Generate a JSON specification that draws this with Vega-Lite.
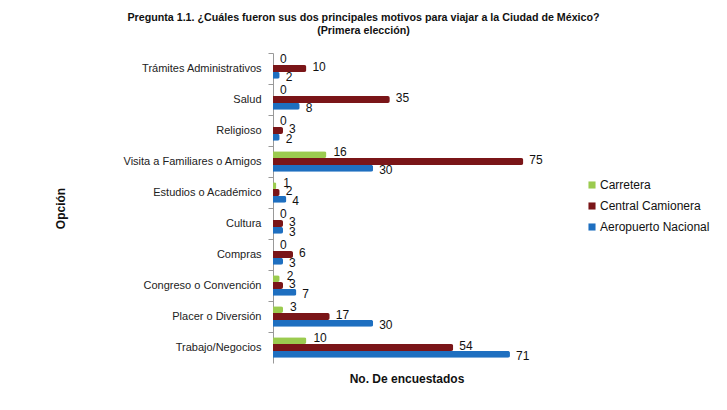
{
  "$schema": "https://vega.github.io/schema/vega-lite/v6.json",
  "autosize": {"type": "none"},
  "width": 267,
  "height": 310,
  "padding": {"left": 273, "top": 53, "right": 187, "bottom": 47},
  "background": "white",
  "config": {
    "font": "Liberation Sans",
    "view": {"stroke": null}
  },
  "title": {
    "text": ["Pregunta 1.1. ¿Cuáles fueron sus dos principales motivos para viajar a la Ciudad de México?", "(Primera elección)"],
    "fontSize": 10.7,
    "fontWeight": "bold",
    "color": "#111",
    "anchor": "middle",
    "dx": -43,
    "offset": 16,
    "lineHeight": 13
  },
  "data": {
    "values": [
      {"opcion": "Trámites Administrativos", "serie": "Carretera", "valor": 0},
      {"opcion": "Trámites Administrativos", "serie": "Central Camionera", "valor": 10},
      {"opcion": "Trámites Administrativos", "serie": "Aeropuerto Nacional", "valor": 2},
      {"opcion": "Salud", "serie": "Carretera", "valor": 0},
      {"opcion": "Salud", "serie": "Central Camionera", "valor": 35},
      {"opcion": "Salud", "serie": "Aeropuerto Nacional", "valor": 8},
      {"opcion": "Religioso", "serie": "Carretera", "valor": 0},
      {"opcion": "Religioso", "serie": "Central Camionera", "valor": 3},
      {"opcion": "Religioso", "serie": "Aeropuerto Nacional", "valor": 2},
      {"opcion": "Visita a Familiares o Amigos", "serie": "Carretera", "valor": 16},
      {"opcion": "Visita a Familiares o Amigos", "serie": "Central Camionera", "valor": 75},
      {"opcion": "Visita a Familiares o Amigos", "serie": "Aeropuerto Nacional", "valor": 30},
      {"opcion": "Estudios o Académico", "serie": "Carretera", "valor": 1},
      {"opcion": "Estudios o Académico", "serie": "Central Camionera", "valor": 2},
      {"opcion": "Estudios o Académico", "serie": "Aeropuerto Nacional", "valor": 4},
      {"opcion": "Cultura", "serie": "Carretera", "valor": 0},
      {"opcion": "Cultura", "serie": "Central Camionera", "valor": 3},
      {"opcion": "Cultura", "serie": "Aeropuerto Nacional", "valor": 3},
      {"opcion": "Compras", "serie": "Carretera", "valor": 0},
      {"opcion": "Compras", "serie": "Central Camionera", "valor": 6},
      {"opcion": "Compras", "serie": "Aeropuerto Nacional", "valor": 3},
      {"opcion": "Congreso o Convención", "serie": "Carretera", "valor": 2},
      {"opcion": "Congreso o Convención", "serie": "Central Camionera", "valor": 3},
      {"opcion": "Congreso o Convención", "serie": "Aeropuerto Nacional", "valor": 7},
      {"opcion": "Placer o Diversión", "serie": "Carretera", "valor": 3},
      {"opcion": "Placer o Diversión", "serie": "Central Camionera", "valor": 17},
      {"opcion": "Placer o Diversión", "serie": "Aeropuerto Nacional", "valor": 30},
      {"opcion": "Trabajo/Negocios", "serie": "Carretera", "valor": 10},
      {"opcion": "Trabajo/Negocios", "serie": "Central Camionera", "valor": 54},
      {"opcion": "Trabajo/Negocios", "serie": "Aeropuerto Nacional", "valor": 71}
    ]
  },
  "encoding": {
    "y": {
      "field": "opcion",
      "type": "nominal",
      "sort": null,
      "scale": {"paddingInner": 0, "paddingOuter": 0},
      "axis": {
        "title": "Opción",
        "titleFontSize": 12,
        "titleFontWeight": "bold",
        "titleColor": "#111",
        "titleX": -213,
        "titleY": 155,
        "titleAngle": -90,
        "titleAlign": "center",
        "titleBaseline": "middle",
        "labelFontSize": 11,
        "labelColor": "#222",
        "labelPadding": 7,
        "bandPosition": 0,
        "tickSize": 5,
        "tickColor": "#999",
        "domainColor": "#999",
        "grid": false
      }
    },
    "yOffset": {
      "field": "serie",
      "type": "nominal",
      "sort": ["Carretera", "Central Camionera", "Aeropuerto Nacional"],
      "scale": {"paddingInner": 0, "paddingOuter": 0.75}
    },
    "x": {
      "field": "valor",
      "type": "quantitative",
      "scale": {"domain": [0, 80], "nice": false},
      "axis": {
        "title": "No. De encuestados",
        "titleFontSize": 12,
        "titleFontWeight": "bold",
        "titleColor": "#111",
        "titlePadding": 10,
        "labels": false,
        "ticks": false,
        "domain": false,
        "grid": false
      }
    }
  },
  "layer": [
    {
      "mark": {"type": "bar", "cornerRadiusEnd": 2},
      "encoding": {
        "color": {
          "field": "serie",
          "type": "nominal",
          "sort": ["Carretera", "Central Camionera", "Aeropuerto Nacional"],
          "scale": {
            "domain": ["Carretera", "Central Camionera", "Aeropuerto Nacional"],
            "range": ["#9BCB4F", "#7A1518", "#1E6FC0"]
          },
          "legend": {
            "title": null,
            "orient": "none",
            "legendX": 313,
            "legendY": 126,
            "symbolType": "square",
            "symbolSize": 50,
            "symbolStrokeWidth": 0,
            "labelFontSize": 12,
            "labelColor": "#111",
            "labelOffset": 2,
            "rowPadding": 9
          }
        }
      }
    },
    {
      "transform": [{"filter": "datum.serie === 'Carretera'"}],
      "mark": {"type": "text", "align": "left", "baseline": "middle", "dx": 7, "dy": -3, "fontSize": 12, "color": "#111"},
      "encoding": {
        "text": {"field": "valor", "type": "quantitative"}
      }
    },
    {
      "transform": [{"filter": "datum.serie === 'Central Camionera'"}],
      "mark": {"type": "text", "align": "left", "baseline": "middle", "dx": 6, "dy": -2, "fontSize": 12, "color": "#111"},
      "encoding": {
        "text": {"field": "valor", "type": "quantitative"}
      }
    },
    {
      "transform": [{"filter": "datum.serie === 'Aeropuerto Nacional'"}],
      "mark": {"type": "text", "align": "left", "baseline": "middle", "dx": 6, "dy": 2, "fontSize": 12, "color": "#111"},
      "encoding": {
        "text": {"field": "valor", "type": "quantitative"}
      }
    }
  ]
}
